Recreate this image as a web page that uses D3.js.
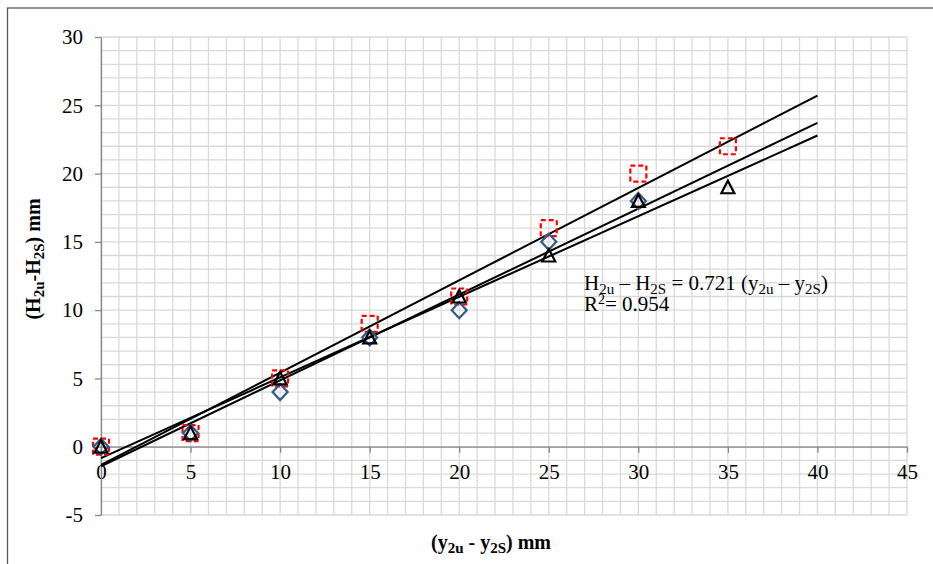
<!DOCTYPE html>
<html>
<head>
<meta charset="utf-8">
<script src="https://cdn.jsdelivr.net/npm/d3@7"></script>
<style>
  body { margin: 0; background: #fff; }
  svg text { font-family: "Liberation Serif", "Times New Roman", "DejaVu Serif", serif; }
</style>
</head>
<body>
<div id="chart"></div>
<script>
// chart size
const width = 933;
const height = 564;
const serif = "'Liberation Serif', 'Times New Roman', serif";

// data
const xDiamond = [0, 5, 10, 15, 20, 25, 30];
const yDiamond = [0, 1, 4, 8, 10, 15, 18];
const xSquare = [0, 5, 10, 15, 20, 25, 30, 35];
const ySquare = [0, 1, 5, 9, 11, 16, 20, 22];
const xTriangle = [0, 5, 10, 15, 20, 25, 30, 35];
const yTriangle = [0, 1, 5, 8, 11, 14, 18, 19];
const xTicks = [0, 5, 10, 15, 20, 25, 30, 35, 40, 45];
const yTicks = [-5, 0, 5, 10, 15, 20, 25, 30];
const trendRange = [0, 40];

const svg = d3.select("#chart")
  .append("svg")
  .attr("width", width)
  .attr("height", height);

// outer chart border (runs off the page to the right and bottom)
svg.append("rect")
  .attr("x", 7.5)
  .attr("y", 8)
  .attr("width", 960)
  .attr("height", 600)
  .attr("fill", "none")
  .attr("stroke", "#595959")
  .attr("stroke-width", 1.3);

const x = d3.scaleLinear().domain([0, 45]).range([101, 907]);
const y = d3.scaleLinear().domain([-5, 30]).range([515, 37]);

// minor grid every unit
const grid = svg.append("g");
grid.selectAll(".gx")
  .data(d3.range(0, 46))
  .enter().append("line")
  .attr("x1", d => x(d)).attr("x2", d => x(d))
  .attr("y1", y(30)).attr("y2", y(-5))
  .attr("stroke", "#d9d9d9")
  .attr("stroke-width", 1.3);
grid.selectAll(".gy")
  .data(d3.range(-5, 31))
  .enter().append("line")
  .attr("x1", x(0)).attr("x2", x(45))
  .attr("y1", d => y(d)).attr("y2", d => y(d))
  .attr("stroke", "#d9d9d9")
  .attr("stroke-width", 1.3);

// x axis sits on y = 0
const xAxis = svg.append("g")
  .attr("transform", `translate(0,${y(0)})`)
  .attr("font-family", serif)
  .call(d3.axisBottom(x).tickValues(xTicks).tickFormat(d => String(d)).tickSize(6).tickSizeOuter(0));
xAxis.select(".domain").attr("stroke", "#868686").attr("stroke-width", 1.3);
xAxis.selectAll(".tick line").attr("stroke", "#868686").attr("stroke-width", 1.3);
xAxis.selectAll(".tick text")
  .attr("y", 17)
  .attr("fill", "#000")
  .style("font-size", "21px")
  .style("font-family", serif);

const yAxis = svg.append("g")
  .attr("transform", `translate(${x(0)},0)`)
  .attr("font-family", serif)
  .call(d3.axisLeft(y).tickValues(yTicks).tickFormat(d => String(d)).tickSize(6).tickSizeOuter(0));
yAxis.select(".domain").attr("stroke", "#868686").attr("stroke-width", 1.3);
yAxis.selectAll(".tick line").attr("stroke", "#868686").attr("stroke-width", 1.3);
yAxis.selectAll(".tick text")
  .attr("x", -18)
  .attr("fill", "#000")
  .style("font-size", "21px")
  .style("font-family", serif);

// linear trendlines, least squares like Excel
function fit(xs, ys) {
  const mx = d3.mean(xs), my = d3.mean(ys);
  let sxy = 0, sxx = 0;
  xs.forEach((v, i) => { sxy += (v - mx) * (ys[i] - my); sxx += (v - mx) * (v - mx); });
  const b = sxy / sxx;
  return { b: b, a: my - b * mx };
}
[[xSquare, ySquare], [xDiamond, yDiamond], [xTriangle, yTriangle]].forEach(s => {
  const f = fit(s[0], s[1]);
  svg.append("line")
    .attr("x1", x(trendRange[0])).attr("y1", y(f.a + f.b * trendRange[0]))
    .attr("x2", x(trendRange[1])).attr("y2", y(f.a + f.b * trendRange[1]))
    .attr("stroke", "#000")
    .attr("stroke-width", 2);
});

// red dashed squares
svg.selectAll(".sq")
  .data(xSquare.map((v, i) => [v, ySquare[i]]))
  .enter().append("rect")
  .attr("x", d => x(d[0]) - 8)
  .attr("y", d => y(d[1]) - 8)
  .attr("width", 16)
  .attr("height", 16)
  .attr("fill", "none")
  .attr("stroke", "#ff0000")
  .attr("stroke-width", 2.2)
  .attr("stroke-dasharray", "5,3");

// blue diamonds
svg.selectAll(".dm")
  .data(xDiamond.map((v, i) => [v, yDiamond[i]]))
  .enter().append("path")
  .attr("transform", d => `translate(${x(d[0])},${y(d[1])})`)
  .attr("d", "M0,-8L7.5,0L0,8L-7.5,0Z")
  .attr("fill", "none")
  .attr("stroke", "#2e5a8a")
  .attr("stroke-width", 2.2);

// black triangles
svg.selectAll(".tr")
  .data(xTriangle.map((v, i) => [v, yTriangle[i]]))
  .enter().append("path")
  .attr("transform", d => `translate(${x(d[0])},${y(d[1])})`)
  .attr("d", "M0,-6.5L6.5,6L-6.5,6Z")
  .attr("fill", "none")
  .attr("stroke", "#000")
  .attr("stroke-width", 2.2);

// text with subscripts: parts are [text, isSub]
function richText(sel, parts, small, shift) {
  let sub = false;
  parts.forEach(p => {
    const t = sel.append("tspan").text(p[0]);
    if (p[1] && !sub) { t.attr("dy", shift).style("font-size", small); sub = true; }
    else if (p[1]) { t.style("font-size", small); }
    else if (sub) { t.attr("dy", -shift); sub = false; }
  });
}

// equation label
const eq = svg.append("text")
  .attr("x", 584)
  .attr("y", 290)
  .style("font-size", "21px");
richText(eq, [["H"], ["2u", 1], [" – H"], ["2S", 1], [" = 0.721 (y"], ["2u", 1], [" – y"], ["2S", 1], [")"]], "15px", 4);

const r2 = svg.append("text")
  .attr("x", 584)
  .attr("y", 311)
  .style("font-size", "21px");
r2.append("tspan").text("R");
r2.append("tspan").text("2").attr("dy", -7).style("font-size", "14px");
r2.append("tspan").text("= 0.954").attr("dy", 7);

// axis titles
const xt = svg.append("text")
  .attr("x", 491)
  .attr("y", 549)
  .attr("text-anchor", "middle")
  .style("font-size", "20px")
  .style("font-weight", "bold");
richText(xt, [["(y"], ["2u", 1], [" - y"], ["2S", 1], [") mm"]], "15px", 4);

const yt = svg.append("text")
  .attr("transform", "translate(40,259) rotate(-90)")
  .attr("text-anchor", "middle")
  .style("font-size", "20px")
  .style("font-weight", "bold");
richText(yt, [["(H"], ["2u", 1], ["-H"], ["2S", 1], [") mm"]], "15px", 4);
</script>
</body>
</html>
